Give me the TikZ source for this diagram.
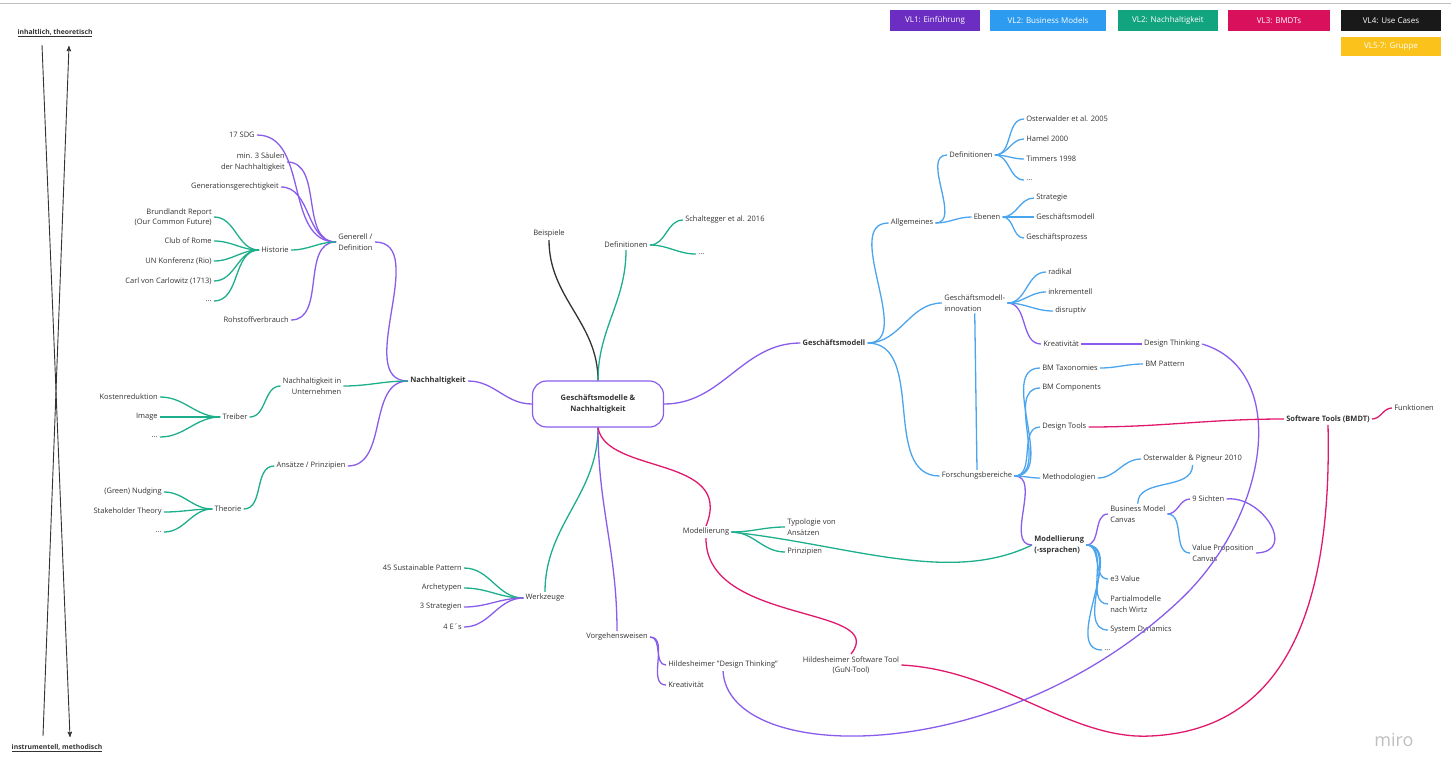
\documentclass[tikz,border=0pt]{standalone}
\usepackage{fontspec}
\setmainfont{Open Sans}
\usepackage{tikz}
\usetikzlibrary{arrows,positioning}

\definecolor{lilac}{HTML}{8A5CEB}
\definecolor{himmel}{HTML}{4AA5EE}
\definecolor{minze}{HTML}{1DAE8B}
\definecolor{beere}{HTML}{E0196C}
\definecolor{tinte}{HTML}{333333}
\definecolor{vlviolett}{HTML}{6C2DC2}
\definecolor{vlblau}{HTML}{2D9BF0}
\definecolor{vlgruen}{HTML}{12A37F}
\definecolor{vlpink}{HTML}{D9115C}
\definecolor{vlgelb}{HTML}{FBC21B}

\begin{document}
\begin{tikzpicture}[x=1pt,y=-1pt,>=stealth',semithick]
\tikzstyle{thema}=[text=tinte,inner sep=2pt,align=left,font=\fontsize{7.5}{10.5}\selectfont]
\tikzstyle{haupt}=[thema,font=\fontsize{7.5}{10.5}\selectfont\bfseries]
\tikzstyle{zentrum}=[haupt,draw=lilac,line width=1.2pt,rounded corners=14pt,align=center,minimum width=131pt,minimum height=46pt]
\tikzstyle{legende}=[text=white,minimum height=21pt,inner sep=2pt,font=\fontsize{8}{9}\selectfont]
\tikzstyle{lila}=[color=lilac,line width=1.3pt]
\tikzstyle{blau}=[color=himmel,line width=1.3pt]
\tikzstyle{gruen}=[color=minze,line width=1.3pt]
\tikzstyle{pink}=[color=beere,line width=1.3pt]
\tikzstyle{schwarz}=[color=tinte,line width=1.3pt]
\tikzstyle{achse}=[color=tinte,line width=0.9pt]
\useasboundingbox (0,0) rectangle (1451,756);
\draw[black!25] (0,3) -- (1451,3);

% Legende
\node[legende,fill=vlviolett,minimum width=90pt] (vl1) at (935,20.5) {VL1: Einführung};
\node[legende,fill=vlblau,minimum width=116pt] (vl2b) at (1048,20.5) {VL2: Business Models};
\node[legende,fill=vlgruen,minimum width=100pt] (vl2n) at (1168,20.5) {VL2: Nachhaltigkeit};
\node[legende,fill=vlpink,minimum width=102pt] (vl3) at (1279,20.5) {VL3: BMDTs};
\node[legende,fill=black!90,minimum width=100pt] (vl4) at (1391,20.5) {VL4: Use Cases};
\node[legende,fill=vlgelb,minimum width=100pt,minimum height=19pt] (vl5) at (1391,46.5) {VL5-7: Gruppe};

% Achse links
\node[haupt,font=\fontsize{6.8}{8}\selectfont\bfseries] (ih) at (55,33) {\underline{inhaltlich, theoretisch}};
\node[haupt,font=\fontsize{6.8}{8}\selectfont\bfseries] (im) at (57,748) {\underline{instrumentell, methodisch}};
\coordinate (o1) at (42,45);
\coordinate (o2) at (69,46);
\coordinate (u1) at (43,736);
\coordinate (u2) at (70,737);
\draw[achse,->] (o1) -- (u2);
\draw[achse,->] (u1) -- (o2);

% Mitte
\node[zentrum] (gn) at (598,404) {Geschäftsmodelle \&\\Nachhaltigkeit};

% Nachhaltigkeit
\node[haupt] (nh) at (438,381) {Nachhaltigkeit};
\node[thema,anchor=west] (gd) at (336,242) {Generell /\\Definition};
\node[thema,anchor=east] (sdg) at (257,135) {17 SDG};
\node[thema,anchor=east,align=right] (saeulen) at (287,162) {min. 3 Säulen\\der Nachhaltigkeit};
\node[thema,anchor=east] (gg) at (281,187) {Generationsgerechtigkeit};
\node[thema,anchor=east] (hist) at (291,250) {Historie};
\node[thema,anchor=east] (rv) at (291,320) {Rohstoffverbrauch};
\node[thema,anchor=east,align=right] (brl) at (214,217) {Brundlandt Report\\(Our Common Future)};
\node[thema,anchor=east] (cor) at (214,241) {Club of Rome};
\node[thema,anchor=east] (unk) at (214,261) {UN Konferenz (Rio)};
\node[thema,anchor=east] (cvc) at (214,281) {Carl von Carlowitz (1713)};
\node[thema,anchor=east] (hd) at (214,301) {...};
\node[thema,align=right] (niu) at (312,386) {Nachhaltigkeit in\\Unternehmen};
\node[thema] (tr) at (235,417) {Treiber};
\node[thema,anchor=east] (kr) at (160,397) {Kostenreduktion};
\node[thema,anchor=east] (img) at (160,417) {Image};
\node[thema,anchor=east] (td) at (160,437) {...};
\node[thema] (ap) at (311,466) {Ansätze / Prinzipien};
\node[thema] (th) at (228,509) {Theorie};
\node[thema,anchor=east] (gnu) at (164,492) {(Green) Nudging};
\node[thema,anchor=east] (sht) at (164,512) {Stakeholder Theory};
\node[thema,anchor=east] (thd) at (164,532) {...};

% oben und unten Mitte
\node[thema] (bsp) at (549,234) {Beispiele};
\node[thema] (dfn) at (626,245) {Definitionen};
\node[thema,anchor=west] (sch) at (683,220) {Schaltegger et al. 2016};
\node[thema,anchor=west] (dfd) at (696,254) {...};
\node[thema] (wz) at (545,598) {Werkzeuge};
\node[thema,anchor=east] (sp) at (464,568) {45 Sustainable Pattern};
\node[thema,anchor=east] (arc) at (464,588) {Archetypen};
\node[thema,anchor=east] (str) at (464,607) {3 Strategien};
\node[thema,anchor=east] (vie) at (464,627) {4 E´s};
\node[thema] (vgw) at (617,637) {Vorgehensweisen};
\node[thema,anchor=west] (hdt) at (666,665) {Hildesheimer "Design Thinking"};
\node[thema,anchor=west] (kv2) at (666,685) {Kreativität};
\node[thema] (mdl) at (706,532) {Modellierung};
\node[thema,anchor=west] (typ) at (785,527) {Typologie von\\Ansätzen};
\node[thema,anchor=west] (prz) at (785,552) {Prinzipien};
\node[thema,align=center] (hst) at (851,665) {Hildesheimer Software Tool\\(GuN-Tool)};

% Geschaeftsmodell
\node[haupt] (gm) at (834,343) {Geschäftsmodell};
\node[thema] (allg) at (912,223) {Allgemeines};
\node[thema] (dfn2) at (971,155) {Definitionen};
\node[thema,anchor=west] (ost) at (1024,119) {Osterwalder et al. 2005};
\node[thema,anchor=west] (ham) at (1024,139) {Hamel 2000};
\node[thema,anchor=west] (tim) at (1024,159) {Timmers 1998};
\node[thema,anchor=west] (dd) at (1024,180) {...};
\node[thema] (ebn) at (987,217) {Ebenen};
\node[thema,anchor=west] (stg) at (1034,198) {Strategie};
\node[thema,anchor=west] (gmo) at (1034,217) {Geschäftsmodell};
\node[thema,anchor=west] (gpr) at (1024,238) {Geschäftsprozess};
\node[thema,anchor=west] (gmi) at (942,303) {Geschäftsmodell-\\innovation};
\node[thema,anchor=west] (rad) at (1046,272) {radikal};
\node[thema,anchor=west] (ink) at (1046,292) {inkrementell};
\node[thema,anchor=west] (dis) at (1053,311) {disruptiv};
\node[thema,anchor=west] (kv1) at (1041,344) {Kreativität};
\node[thema] (dth) at (1172,344) {Design Thinking};
\node[thema] (fb) at (977,476) {Forschungsbereiche};
\node[thema,anchor=west] (bmt) at (1040,368) {BM Taxonomies};
\node[thema,anchor=west] (bmp) at (1143,364) {BM Pattern};
\node[thema,anchor=west] (bmk) at (1040,388) {BM Components};
\node[thema,anchor=west] (dto) at (1040,427) {Design Tools};
\node[thema,anchor=west] (met) at (1040,478) {Methodologien};
\node[thema,anchor=west] (op) at (1141,459) {Osterwalder \& Pigneur 2010};
\node[haupt,anchor=west] (mds) at (1032,545) {Modellierung\\(-ssprachen)};
\node[thema,anchor=west] (bmc) at (1108,514) {Business Model\\Canvas};
\node[thema,anchor=west] (neun) at (1190,499) {9 Sichten};
\node[thema,anchor=west] (vpc) at (1190,553) {Value Proposition\\Canvas};
\node[thema,anchor=west] (e3) at (1108,579) {e3 Value};
\node[thema,anchor=west] (pmw) at (1108,604) {Partialmodelle\\nach Wirtz};
\node[thema,anchor=west] (sd) at (1108,630) {System Dynamics};
\node[thema,anchor=west] (md) at (1102,650) {...};
\node[haupt] (swt) at (1328,419) {Software Tools (BMDT)};
\node[thema,anchor=west] (fkt) at (1392,408) {Funktionen};

\node[text=black!25,font=\fontsize{18}{18}\selectfont] (miro) at (1394,740) {miro};

% Verbindungen links
\path[lila] (gn.west) edge[out=180,in=0] (nh.east)
      (nh.west) edge[out=180,in=0] (gd.east)
                edge[out=180,in=0] (ap.east)
      (gd.west) edge[out=180,in=0] (sdg.east)
                edge[out=180,in=0] (saeulen.east)
                edge[out=180,in=0] (gg.east)
                edge[out=180,in=0] (rv.east);
\path[gruen] (nh.west) edge[out=180,in=0] (niu.east)
      (gd.west) edge[out=180,in=0] (hist.east)
      (hist.west) edge[out=180,in=0] (brl.east)
                  edge[out=180,in=0] (cor.east)
                  edge[out=180,in=0] (unk.east)
                  edge[out=180,in=0] (cvc.east)
                  edge[out=180,in=0] (hd.east)
      (niu.west) edge[out=180,in=0] (tr.east)
      (tr.west) edge[out=180,in=0] (kr.east)
                edge[out=180,in=0] (img.east)
                edge[out=180,in=0] (td.east)
      (ap.west) edge[out=180,in=0] (th.east)
      (th.west) edge[out=180,in=0] (gnu.east)
                edge[out=180,in=0] (sht.east)
                edge[out=180,in=0] (thd.east);

% Verbindungen Mitte
\path[schwarz] (gn.north) edge[out=90,in=-90] (bsp.south);
\path[gruen] (gn.north) edge[out=90,in=-90] (dfn.south)
      (dfn.east) edge[out=0,in=180] (sch.west)
                 edge[out=0,in=180] (dfd.west)
      (gn.south) edge[out=-90,in=90] (wz.north)
      (wz.west) edge[out=180,in=0] (sp.east)
                edge[out=180,in=0] (arc.east)
      (mdl.east) edge[out=0,in=180] (typ.west)
                 edge[out=0,in=180] (prz.west);
\path[lila] (wz.west) edge[out=180,in=0] (str.east)
                edge[out=180,in=0] (vie.east)
      (gn.south) edge[out=-90,in=90] (vgw.north)
      (vgw.east) edge[out=0,in=180] (hdt.west)
                 edge[out=0,in=180] (kv2.west);
\draw[gruen] (mdl.east) .. controls (850,545) and (950,585) .. (mds.west);
\draw[pink] (gn.south) .. controls (606,475) and (735,455) .. (mdl.north);
\draw[pink] (mdl.south) .. controls (705,625) and (890,605) .. (hst.north);
\draw[pink] (hst.east) .. controls (1000,670) and (1070,740) .. (1150,736)
      .. controls (1290,730) and (1332,600) .. (swt.south);
\draw[lila] (hdt.south) .. controls (728,765) and (1000,770) .. (1180,600)
      .. controls (1270,515) and (1290,370) .. (dth.east);

% Verbindungen rechts
\path[lila] (gn.east) edge[out=0,in=180] (gm.west)
      (gmi.east) edge[out=0,in=180] (kv1.west)
      (kv1.east) edge (dth.west)
      (fb.east) edge[out=0,in=180] (mds.west)
      (mds.east) edge[out=0,in=180] (bmc.west)
      (bmc.east) edge[out=0,in=180] (neun.west);
\draw[lila] (neun.east) .. controls (1262,495) and (1298,552) .. (vpc.east);
\path[blau] (gm.east) edge[out=0,in=180] (allg.west)
                edge[out=0,in=180] (gmi.west)
                edge[out=0,in=180] (fb.west)
      (allg.east) edge[out=0,in=180] (dfn2.west)
                  edge[out=0,in=180] (ebn.west)
      (dfn2.east) edge[out=0,in=180] (ost.west)
                  edge[out=0,in=180] (ham.west)
                  edge[out=0,in=180] (tim.west)
                  edge[out=0,in=180] (dd.west)
      (ebn.east) edge[out=0,in=180] (stg.west)
                 edge[out=0,in=180] (gmo.west)
                 edge[out=0,in=180] (gpr.west)
      (gmi.east) edge[out=0,in=180] (rad.west)
                 edge[out=0,in=180] (ink.west)
                 edge[out=0,in=180] (dis.west)
      (gmi.south) edge (fb.north)
      (fb.east) edge[out=0,in=180] (bmt.west)
                edge[out=0,in=180] (bmk.west)
                edge[out=0,in=180] (dto.west)
                edge[out=0,in=180] (met.west)
      (bmt.east) edge[out=0,in=180] (bmp.west)
      (met.east) edge[out=0,in=180] (op.west)
      (bmc.north) edge[out=90,in=-90] (op.south)
      (bmc.east) edge[out=0,in=180] (vpc.west)
      (mds.east) edge[out=0,in=180] (e3.west)
                 edge[out=0,in=180] (pmw.west)
                 edge[out=0,in=180] (sd.west)
                 edge[out=0,in=180] (md.west);
\path[pink] (dto.east) edge[out=0,in=180] (swt.west)
      (swt.east) edge[out=0,in=180] (fkt.west);
\end{tikzpicture}
\end{document}
